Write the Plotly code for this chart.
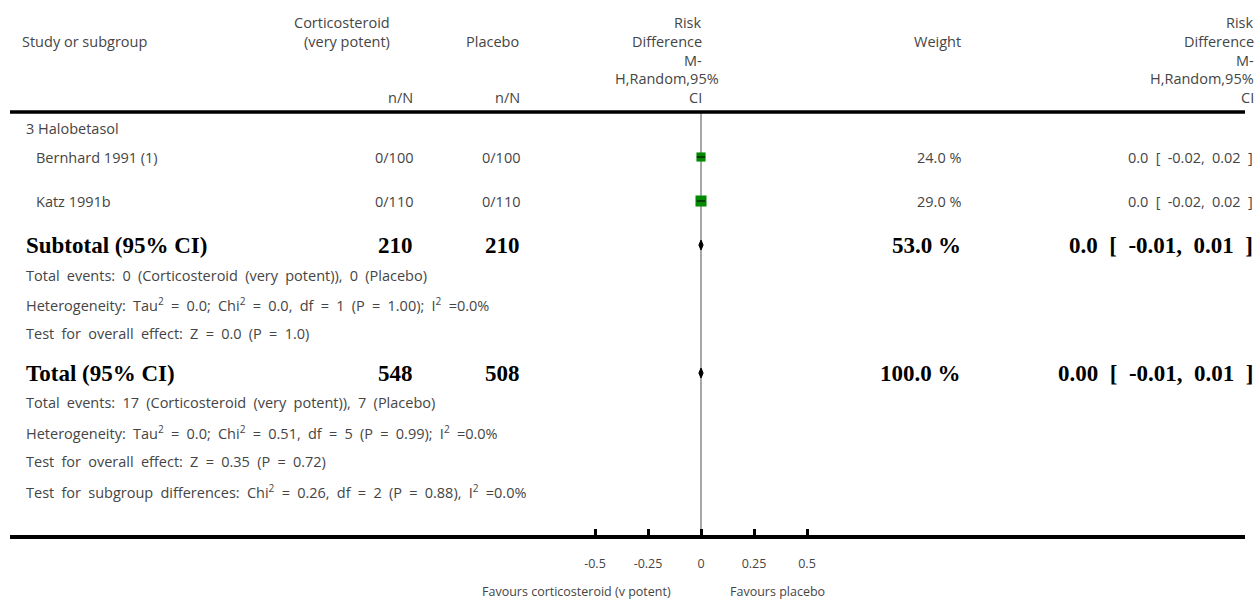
import plotly.graph_objects as go

# ---------------- data ----------------
subgroup_name = "3 Halobetasol"
studies = ["Bernhard 1991 (1)", "Katz 1991b"]
cs_events = [0, 0]
cs_total = [100, 110]
pl_events = [0, 0]
pl_total = [100, 110]
weights = [24.0, 29.0]
rd_est = [0.0, 0.0]
rd_lo = [-0.02, -0.02]
rd_hi = [0.02, 0.02]

subtotal_n = [210, 210]
subtotal_weight = 53.0
subtotal_rd = [0.0, -0.01, 0.01]   # est, lo, hi

total_n = [548, 508]
total_weight = 100.0
total_rd = [0.00, -0.01, 0.01]     # est, lo, hi

subtotal_notes = [
    "Total events: 0 (Corticosteroid (very potent)), 0 (Placebo)",
    "Heterogeneity: Tau<sup>2</sup> = 0.0; Chi<sup>2</sup> = 0.0, df = 1 (P = 1.00); I<sup>2</sup> =0.0%",
    "Test for overall effect: Z = 0.0 (P = 1.0)",
]
total_notes = [
    "Total events: 17 (Corticosteroid (very potent)), 7 (Placebo)",
    "Heterogeneity: Tau<sup>2</sup> = 0.0; Chi<sup>2</sup> = 0.51, df = 5 (P = 0.99); I<sup>2</sup> =0.0%",
    "Test for overall effect: Z = 0.35 (P = 0.72)",
    "Test for subgroup differences: Chi<sup>2</sup> = 0.26, df = 2 (P = 0.88), I<sup>2</sup> =0.0%",
]

tick_vals = [-0.5, -0.25, 0, 0.25, 0.5]
tick_text = ["-0.5", "-0.25", "0", "0.25", "0.5"]
favours_left = "Favours corticosteroid (v potent)"
favours_right = "Favours placebo"

# ---------------- layout constants (pixels) ----------------
W, H = 1258, 602
ZERO_PX = 701
PX_PER_UNIT = 212
LINE_L, LINE_R = 10, 1245
TOP_LINE_Y = 112
AXIS_Y = 537

COL_STUDY = 24
COL_STUDY_IND = 34
COL_CS = 415
COL_PL = 522
COL_W = 963
COL_RD = 1255

ROW_GROUP = 128
ROW_STUDY = [157, 201]
ROW_SUB = 245
ROW_SUB_NOTES = [275, 304, 333]
ROW_TOT = 373
ROW_TOT_NOTES = [402, 432, 461, 491]

SANS = "'Open Sans', Lato, sans-serif"
SERIF = "'Liberation Serif', 'Times New Roman', serif"
TXT = "#454545"
FS = 14.5
BFS = 23

x_lo = (LINE_L - ZERO_PX) / PX_PER_UNIT
x_hi = (LINE_R - ZERO_PX) / PX_PER_UNIT

fig = go.Figure()
ann = []


def wide(s):
    # the reference typesetting uses generous word spacing
    return s.replace(" ", "\u2002")


def text(px, py, s, anchor="left", bold=False, size=None, color=None):
    ann.append(dict(
        x=px / W, xref="paper", y=py, yref="y",
        text=f"<b>{s}</b>" if bold else s, showarrow=False,
        xanchor=anchor, yanchor="middle",
        font=dict(family=SERIF if bold else SANS,
                  size=size or (BFS if bold else FS),
                  color=color or ("#000" if bold else TXT)),
    ))


def ci_str(est, lo, hi, dec):
    return wide(f"{est:.{dec}f} [ {lo:.2f}, {hi:.2f} ]")


# header
text(20, 41, "Study or subgroup")
text(392, 22, "Corticosteroid", "right")
text(392, 41, "(very potent)", "right")
text(521, 41, "Placebo", "right")
text(COL_CS, 97, "n/N", "right")
text(COL_PL, 97, "n/N", "right")
hdr_lines = ["Risk", "Difference", "M-", "H,Random,95%", "CI"]
hdr_y = [22, 41, 60, 78, 97]
for s, yy in zip(hdr_lines, hdr_y):
    text(721 if s.startswith("H,") else 704, yy, s, "right")
    text(1256, yy, s, "right")
text(COL_W, 41, "Weight", "right")

# subgroup heading
text(COL_STUDY, ROW_GROUP, subgroup_name)

# studies
for i, name in enumerate(studies):
    yy = ROW_STUDY[i]
    text(COL_STUDY_IND, yy, name)
    text(COL_CS, yy, f"{cs_events[i]}/{cs_total[i]}", "right")
    text(COL_PL, yy, f"{pl_events[i]}/{pl_total[i]}", "right")
    text(COL_W, yy, f"{weights[i]:.1f} %", "right")
    text(COL_RD, yy, ci_str(rd_est[i], rd_lo[i], rd_hi[i], 1), "right")
    fig.add_trace(go.Scatter(x=[rd_est[i]], y=[yy], mode="markers",
                             marker=dict(symbol="square", color="#008a00",
                                         size=weights[i] * 0.38,
                                         line=dict(width=0)),
                             hoverinfo="skip", showlegend=False))
    fig.add_trace(go.Scatter(x=[rd_lo[i], rd_hi[i]], y=[yy, yy], mode="lines",
                             line=dict(color="#111", width=1.2),
                             hoverinfo="skip", showlegend=False))

# subtotal
text(COL_STUDY, ROW_SUB, "Subtotal (95% CI)", bold=True)
text(COL_CS, ROW_SUB, f"{subtotal_n[0]}", "right", bold=True)
text(COL_PL, ROW_SUB, f"{subtotal_n[1]}", "right", bold=True)
text(COL_W, ROW_SUB, f"{subtotal_weight:.1f} %", "right", bold=True)
text(COL_RD, ROW_SUB, ci_str(*subtotal_rd, 1), "right", bold=True)
for s, yy in zip(subtotal_notes, ROW_SUB_NOTES):
    text(COL_STUDY, yy, wide(s))

# total
text(COL_STUDY, ROW_TOT, "Total (95% CI)", bold=True)
text(COL_CS, ROW_TOT, f"{total_n[0]}", "right", bold=True)
text(COL_PL, ROW_TOT, f"{total_n[1]}", "right", bold=True)
text(COL_W, ROW_TOT, f"{total_weight:.1f} %", "right", bold=True)
text(COL_RD, ROW_TOT, ci_str(*total_rd, 2), "right", bold=True)
for s, yy in zip(total_notes, ROW_TOT_NOTES):
    text(COL_STUDY, yy, wide(s))

# diamonds
DH = 5
for (est, lo, hi), yy in [(subtotal_rd, ROW_SUB), (total_rd, ROW_TOT)]:
    fig.add_trace(go.Scatter(x=[lo, est, hi, est, lo], y=[yy, yy - DH, yy, yy + DH, yy],
                             mode="lines", fill="toself", fillcolor="black",
                             line=dict(color="black", width=1),
                             hoverinfo="skip", showlegend=False))

# favours labels
text(673, 591, favours_left, "right", size=12.5)
text(728, 591, favours_right, "left", size=12.5)

shapes = [
    dict(type="line", xref="paper", yref="y", x0=LINE_L / W, x1=LINE_R / W,
         y0=TOP_LINE_Y, y1=TOP_LINE_Y, line=dict(color="black", width=3.5)),
    dict(type="line", xref="x", yref="y", x0=0, x1=0, y0=TOP_LINE_Y, y1=AXIS_Y,
         line=dict(color="#8a8a8a", width=1.5), layer="below"),
]

fig.update_layout(
    width=W, height=H, margin=dict(l=0, r=0, t=0, b=0),
    paper_bgcolor="white", plot_bgcolor="white",
    annotations=ann, shapes=shapes, showlegend=False,
    xaxis=dict(domain=[LINE_L / W, LINE_R / W], range=[x_lo, x_hi],
               showgrid=False, zeroline=False, showline=True,
               linecolor="black", linewidth=3.5,
               anchor="free", position=1 - AXIS_Y / H,
               ticks="inside", ticklen=6, tickwidth=2.5, tickcolor="black",
               tickvals=tick_vals, ticktext=tick_text,
               tickfont=dict(family=SANS, size=12.5, color=TXT),
               ticklabelstandoff=14, fixedrange=True),
    yaxis=dict(domain=[0, 1], range=[H, 0], visible=False, fixedrange=True),
)

fig.write_html(
    "out.html",
    config={"displayModeBar": False},
    post_script="document.body.style.margin='0';document.body.style.overflow='hidden';",
)
